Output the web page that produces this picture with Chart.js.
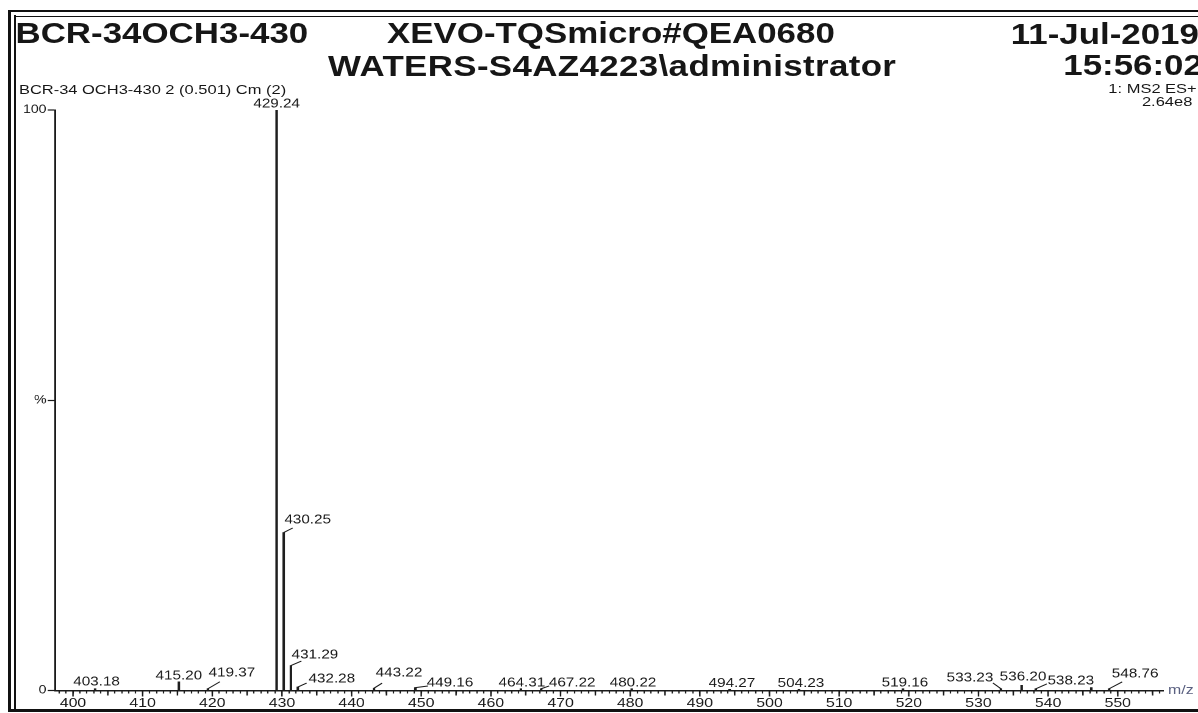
<!DOCTYPE html>
<html><head><meta charset="utf-8">
<script src="https://cdn.jsdelivr.net/npm/chart.js@4"></script>
<style>
html,body{margin:0;padding:0;background:#fff;width:1198px;height:713px;overflow:hidden;}
#stage{position:absolute;left:0;top:0;width:982px;height:713px;transform:scaleX(1.22);transform-origin:0 0;font-family:"Liberation Sans",Arial,sans-serif;color:#161616;}
#c{position:absolute;left:0;top:0;}
.t{position:absolute;white-space:nowrap;line-height:1;}
.h{font-weight:bold;font-size:28.6px;}
.s{font-size:13.5px;}
.ln{position:absolute;background:#111;}
</style></head><body>
<div id="stage">
  <canvas id="c" width="982" height="713"></canvas>
  <div class="t h" style="left:12.7px;top:19px">BCR-34OCH3-430</div>
  <div class="t h" style="left:317.2px;top:19px">XEVO-TQSmicro#QEA0680</div>
  <div class="t h" style="left:268.9px;top:51.7px;letter-spacing:0.3px">WATERS-S4AZ4223\administrator</div>
  <div class="t h" style="left:828.5px;top:20px">11-Jul-2019</div>
  <div class="t h" style="left:871.5px;top:51px">15:56:02</div>
  <div class="t s" style="left:15.5px;top:83.4px">BCR-34 OCH3-430 2 (0.501) Cm (2)</div>
  <div class="t s" style="left:908.5px;top:82.4px">1: MS2 ES+</div>
  <div class="t s" style="left:936px;top:95.4px">2.64e8</div>
  <div class="t" style="left:957.4px;top:683.4px;font-size:13px;color:#5a6080">m/z</div>
</div>
<div class="ln" style="left:8px;top:10px;width:3px;height:702px"></div>
<div class="ln" style="left:8px;top:10px;width:1190px;height:2px"></div>
<div class="ln" style="left:14px;top:15px;width:1.5px;height:694px"></div>
<div class="ln" style="left:14px;top:15.5px;width:1184px;height:1.2px"></div>
<div class="ln" style="left:8px;top:708.5px;width:1190px;height:3px"></div>
<script>
// ---- data ----
const peakMz = [403.18, 415.20, 419.37, 429.24, 430.25, 431.29, 432.28, 443.22, 449.16, 464.31, 467.22, 480.22, 494.27, 504.23, 519.16, 533.23, 536.20, 538.23, 546.2, 548.76];
const peakIntensity = [0.3, 1.5, 0.3, 100, 27.2, 4.3, 0.6, 0.4, 0.5, 0.3, 0.3, 0.3, 0.2, 0.2, 0.3, 0.3, 0.9, 0.3, 0.5, 0.3];
const peakLabels = ['403.18','415.20','419.37','429.24','430.25','431.29','432.28','443.22','449.16','464.31','467.22','480.22','494.27','504.23','519.16','533.23','536.20','538.23','','548.76'];
const xTickValues = [400, 410, 420, 430, 440, 450, 460, 470, 480, 490, 500, 510, 520, 530, 540, 550];
const xTickLabels = ['400','410','420','430','440','450','460','470','480','490','500','510','520','530','540','550'];
const yTickValues = [0, 50, 100];
const yTickLabels = ['0', '%', '100'];

// ---- label layout (screen px offsets from peak top: label dx, dy, leader end dx, dy) ----
const labelLayout = [
  [1.4, -6.8], [0, -5.8], [24, -15.8, 12, -7], [0, -6], [24, -12.6, 9, -4.6],
  [24, -10.5, 10.5, -4.5], [34, -8, 8.8, -4], [25, -15, 8, -5], [34.6, -4.6, 12.6, -1.6], [1, -5.8],
  [31, -5.8, 8, -2.8], [1.3, -5.8], [2.3, -5.8], [2, -5.8], [2, -5.8],
  [-31, -10.8, -8, -5.8], [1.4, -8.3], [35, -7.8, 11, -4.8], null, [26, -14.8, 13, -6.8]
];
const SX = 1.22;
const FONT = '"Liberation Sans", Arial, sans-serif';

const annot = {
  id: 'annot',
  afterDraw(chart) {
    const {ctx} = chart; const x = chart.scales.x, y = chart.scales.y;
    const bottom = chart.chartArea.bottom;
    ctx.save();
    ctx.strokeStyle = '#1a1a1a';
    ctx.lineWidth = 1.2;
    for (let v = 400; v <= 555; v += 5) {
      const px = x.getPixelForValue(v);
      ctx.beginPath(); ctx.moveTo(px, bottom); ctx.lineTo(px, bottom + (v % 10 === 0 ? 6 : 5)); ctx.stroke();
    }
    ctx.font = '12.5px ' + FONT;
    ctx.fillStyle = '#1a1a1a';
    ctx.textAlign = 'center';
    ctx.textBaseline = 'middle';
    ctx.lineWidth = 1;
    peakMz.forEach((m, i) => {
      const L = labelLayout[i];
      if (!L || !peakLabels[i]) return;
      const px = x.getPixelForValue(m), py = y.getPixelForValue(peakIntensity[i]);
      ctx.fillText(peakLabels[i], px + L[0] / SX, py + L[1]);
      if (L.length > 2) {
        ctx.beginPath(); ctx.moveTo(px, py); ctx.lineTo(px + L[2] / SX, py + L[3]); ctx.stroke();
      }
    });
    ctx.restore();
  }
};

new Chart(document.getElementById('c'), {
  type: 'bar',
  data: {
    datasets: [{
      data: peakMz.map((m, i) => ({x: m, y: peakIntensity[i]})),
      backgroundColor: '#1e1e1e',
      borderWidth: 0,
      barThickness: 1.4
    }]
  },
  options: {
    responsive: false,
    animation: false,
    devicePixelRatio: 2,
    layout: {padding: {left: 0, right: 28.7, top: 110, bottom: 0}},
    plugins: {legend: {display: false}, tooltip: {enabled: false}},
    scales: {
      x: {
        type: 'linear', min: 397.42, max: 556.5, offset: false,
        afterBuildTicks(s) { const t = []; for (let v = 398; v <= 556; v++) t.push({value: v}); s.ticks = t; },
        afterFit(s) { s.height = 22.5; },
        grid: {drawOnChartArea: false, drawTicks: true, tickLength: 3, tickColor: '#222', tickWidth: 1.1, offset: false},
        border: {display: true, color: '#1a1a1a', width: 1.5},
        ticks: {
          autoSkip: false, maxRotation: 0, minRotation: 0, padding: 2, color: '#1a1a1a',
          font: {family: FONT, size: 13},
          callback(v) { const k = xTickValues.indexOf(v); return k >= 0 ? xTickLabels[k] : ''; }
        }
      },
      y: {
        min: 0, max: 100,
        afterBuildTicks(s) { s.ticks = yTickValues.map(v => ({value: v})); },
        afterFit(s) { s.width = 45.08; },
        grid: {drawOnChartArea: false, tickLength: 6, tickColor: '#1a1a1a', tickWidth: 1.2},
        border: {display: true, color: '#1a1a1a', width: 1.5},
        ticks: {
          padding: 1, color: '#1a1a1a', font: {family: FONT, size: 11.5},
          callback(v) { const k = yTickValues.indexOf(v); return k >= 0 ? yTickLabels[k] : ''; }
        }
      }
    }
  },
  plugins: [annot]
});
</script>
</body></html>
